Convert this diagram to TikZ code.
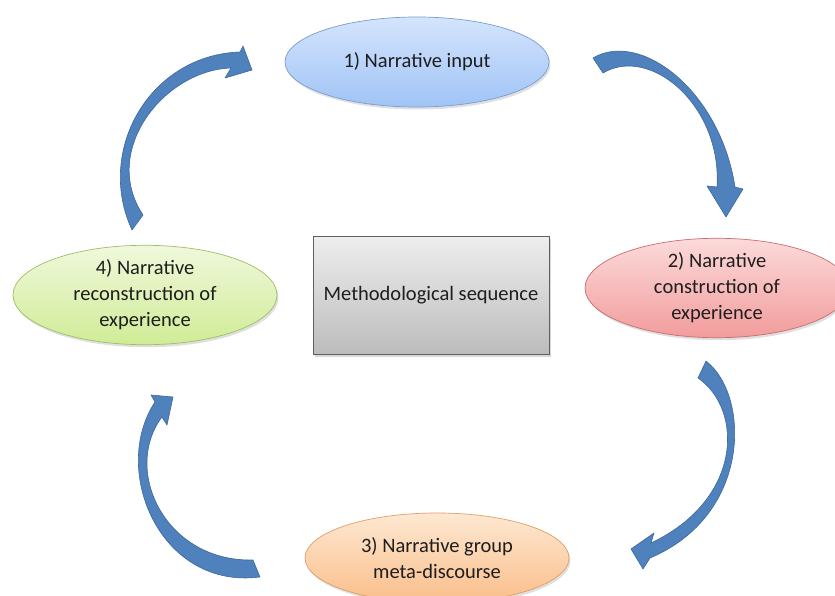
\documentclass[tikz,border=0pt]{standalone}
\usepackage{fontspec}
\setmainfont{Carlito}
\usetikzlibrary{shapes.geometric,shadows}
\definecolor{arrowfill}{RGB}{79,129,189}
\definecolor{arrowedge}{RGB}{62,104,156}
\definecolor{textcol}{RGB}{30,30,30}
\definecolor{blueT}{RGB}{212,228,252}
\definecolor{blueB}{RGB}{160,196,246}
\definecolor{blueD}{RGB}{120,158,208}
\definecolor{redT}{RGB}{252,218,218}
\definecolor{redB}{RGB}{242,156,156}
\definecolor{redD}{RGB}{200,110,110}
\definecolor{greenT}{RGB}{240,248,220}
\definecolor{greenB}{RGB}{208,236,150}
\definecolor{greenD}{RGB}{160,190,100}
\definecolor{orT}{RGB}{253,232,210}
\definecolor{orB}{RGB}{250,190,138}
\definecolor{orD}{RGB}{226,158,100}
\definecolor{grayT}{RGB}{238,238,238}
\definecolor{grayB}{RGB}{188,188,188}
\definecolor{grayD}{RGB}{95,95,95}
\begin{document}
\begin{tikzpicture}[x=1pt,y=-1pt,
  font=\fontsize{20.5}{26}\selectfont,
  ell/.style={ellipse, draw, line width=0.7pt, inner sep=0pt,
    minimum width=264pt, minimum height=90pt, align=center, text=textcol,
    drop shadow={opacity=0.25,shadow xshift=1.5pt,shadow yshift=-2.5pt}},
  blockarrow/.style={fill=arrowfill, draw=arrowedge, line width=0.6pt, line join=round}]
\useasboundingbox (0,0) rectangle (835,596);
\fill[white] (0,0) rectangle (835,596);

% nodes
\node[ell, top color=blueT, bottom color=blueB, draw=blueD] (n1) at (417,62) {1) Narrative input};
\node[ell, top color=redT, bottom color=redB, draw=redD] (n2) at (717,288) {2) Narrative\\construction of\\experience};
\node[ell, top color=orT, bottom color=orB, draw=orD] (n3) at (437,558) {3) Narrative group\\meta-discourse};
\node[ell, top color=greenT, bottom color=greenB, draw=greenD] (n4) at (145,295) {4) Narrative\\reconstruction of\\experience};
\node[rectangle, draw=grayD, line width=0.8pt, top color=grayT, bottom color=grayB,
  minimum width=236pt, minimum height=118pt, text=textcol,
  drop shadow={opacity=0.3,shadow xshift=2pt,shadow yshift=-2.5pt}] (c) at (431,295) {Methodological sequence};

% arrow 1 -> 2 (top right)
\draw[blockarrow] (593,58) .. controls (640,30) and (720,90) .. (735,187)
  -- (743,189) -- (726,217) -- (707,186) -- (717,187)
  .. controls (722,105) and (650,45) .. (603,73) -- cycle;

% arrow 2 -> 3 (bottom right)
\draw[blockarrow] (706,361) .. controls (750,395) and (752,515) .. (650,558)
  -- (643,569) -- (631,549) -- (654,533) -- (651,543)
  .. controls (742,500) and (744,410) .. (698,378) -- cycle;

% arrow 3 -> 4 (bottom left)
\draw[blockarrow] (260,577) .. controls (160,590) and (110,470) .. (155,402)
  -- (151,395) -- (173,397) -- (167,425) -- (162,417)
  .. controls (122,470) and (165,562) .. (253,560) -- cycle;

% arrow 4 -> 1 (top left)
\draw[blockarrow] (132,230) .. controls (95,150) and (150,55) .. (240,52)
  -- (243,46) -- (252,70) -- (225,78) -- (231,68)
  .. controls (165,70) and (100,150) .. (143,215) -- cycle;
\end{tikzpicture}
\end{document}
